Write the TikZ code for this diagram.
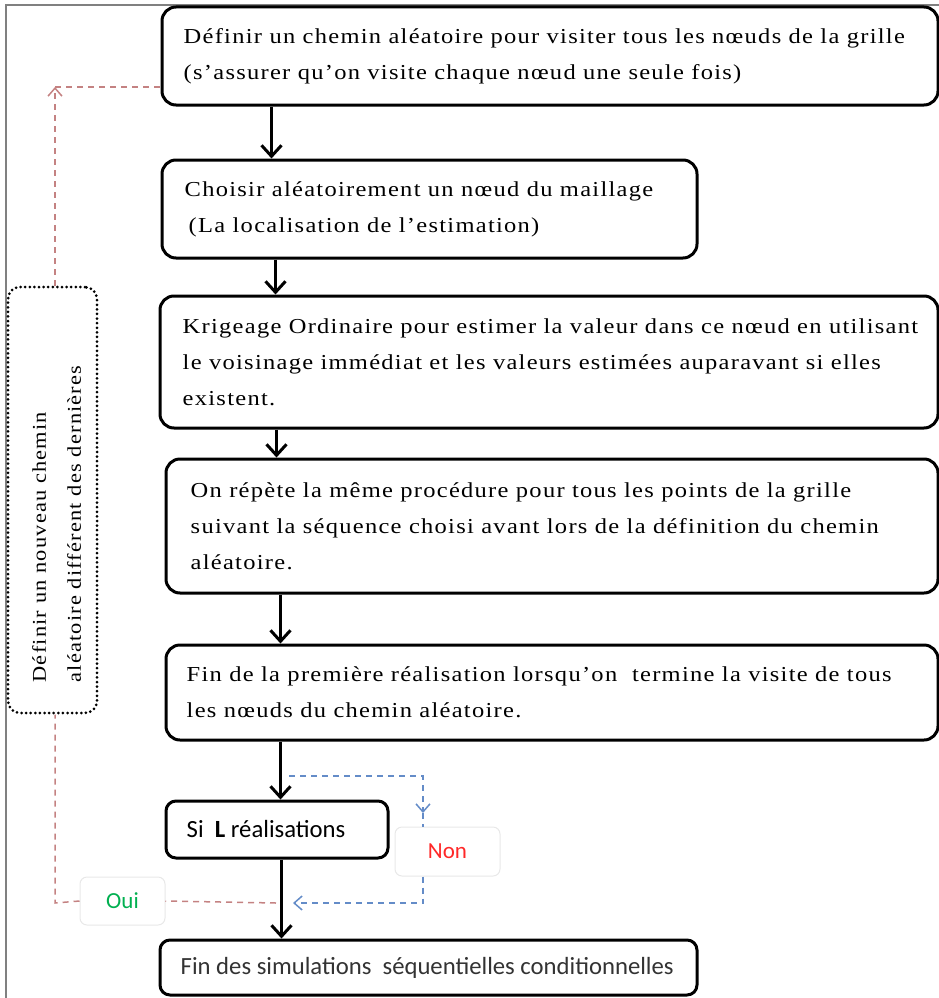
\documentclass[tikz,border=0pt]{standalone}
\usepackage{fontspec}
\setmainfont{Liberation Serif}
\newfontfamily\stepfont[FakeStretch=1.15,LetterSpace=6]{Liberation Serif}
\newfontfamily\sansf{Carlito}
\usetikzlibrary{arrows.meta,calc}
\definecolor{linkred}{RGB}{196,130,130}
\definecolor{linkblue}{RGB}{100,140,200}
\definecolor{ouigreen}{RGB}{0,176,80}
\definecolor{nonred}{RGB}{255,40,40}
\begin{document}
\begin{tikzpicture}[x=1pt,y=-1pt,
  stepbox/.style={draw,line width=3pt,rounded corners=14pt,inner sep=0pt,fill=white},
  smallbox/.style={stepbox,rounded corners=10pt},
  steptext/.style={anchor=west,align=left,inner sep=0pt,
    font=\stepfont\fontsize{21.3}{36}\selectfont},
  sanstext/.style={anchor=west,inner sep=0pt,font=\sansf\fontsize{24.7}{28}\selectfont},
  loopbox/.style={draw,line width=3pt,rounded corners=12pt,inner sep=0pt,
    dash pattern=on 0pt off 4.6pt,line cap=round},
  labelbox/.style={draw=gray!18,line width=1pt,rounded corners=7pt,fill=white,
    inner sep=0pt,font=\sansf\fontsize{23}{23}\selectfont},
  flow/.style={line width=3pt,-{Straight Barb[length=11pt,width=20pt]}},
  reddash/.style={draw=linkred,line width=1.5pt,dash pattern=on 6pt off 5pt},
  bluedash/.style={draw=linkblue,line width=1.5pt,dash pattern=on 6pt off 5pt},
  dashtip/.style={-{Straight Barb[length=8pt,width=14pt]}}]
\useasboundingbox (0,0) rectangle (939,998);

% outer frame
\draw[gray,line width=1.2pt] (6,998) -- (6,5) -- (939,5);

% main sequence of steps
\node[stepbox,minimum width=776pt,minimum height=98pt] (b1) at (550,56) {};
\node[steptext] (t1) at ([xshift=23pt]b1.west)
  {Définir un chemin aléatoire pour visiter tous les nœuds de la grille\\
   (s’assurer qu’on visite chaque nœud une seule fois)};

\node[stepbox,minimum width=535pt,minimum height=98pt] (b2) at (429.5,209) {};
\node[steptext] (t2) at ([xshift=24pt]b2.west)
  {Choisir aléatoirement un nœud du maillage\\
   \hspace*{4pt}(La localisation de l’estimation)};

\node[stepbox,minimum width=778pt,minimum height=132pt] (b3) at (549,362) {};
\node[steptext] (t3) at ([xshift=24pt]b3.west)
  {Krigeage Ordinaire pour estimer la valeur dans ce nœud en utilisant\\
   le voisinage immédiat et les valeurs estimées auparavant si elles\\
   existent.};

\node[stepbox,minimum width=772pt,minimum height=134pt] (b4) at (552,526) {};
\node[steptext] (t4) at ([xshift=26pt]b4.west)
  {On répète la même procédure pour tous les points de la grille\\
   suivant la séquence choisi avant lors de la définition du chemin\\
   aléatoire.};

\node[stepbox,minimum width=772pt,minimum height=95pt] (b5) at (552,692.5) {};
\node[steptext] (t5) at ([xshift=22pt]b5.west)
  {Fin de la première réalisation lorsqu’on \ termine la visite de tous\\
   les nœuds du chemin aléatoire.};

\node[smallbox,minimum width=222pt,minimum height=57pt] (b6) at (277,829.5) {};
\node[sanstext] (t6) at ([xshift=22pt]b6.west) {Si \ \textbf{L} réalisations};

\node[smallbox,minimum width=537pt,minimum height=55pt] (b7) at (428.5,967.5) {};
\node[sanstext,text=black!80] (t7) at ([xshift=22pt]b7.west)
  {Fin des simulations \ séquentielles conditionnelles};

% connectors between the steps
\draw[flow] ([xshift=111pt]b1.south west) -- ([xshift=111pt]b1.south west |- b2.north);
\draw[flow] ([xshift=115pt]b2.south west) -- ([xshift=115pt]b2.south west |- b3.north);
\draw[flow] ([xshift=118pt]b3.south west) -- ([xshift=118pt]b3.south west |- b4.north);
\draw[flow] ([xshift=116pt]b4.south west) -- ([xshift=116pt]b4.south west |- b5.north);
\draw[flow] ([xshift=116pt]b5.south west) -- ([xshift=116pt]b5.south west |- b6.north);
\draw[flow] ([xshift=117pt]b6.south west) -- ([xshift=117pt]b6.south west |- b7.north);

% loop-back box
\node[loopbox,minimum width=89pt,minimum height=426pt] (loop) at (52.5,500) {};
\node[rotate=90,align=left,inner sep=0pt,font=\stepfont\fontsize{19.5}{35}\selectfont]
  (looptext) at ([xshift=4pt,yshift=-24pt]loop.center)
  {Définir un nouveau chemin\\aléatoire différent des dernières};

% decision labels
\node[labelbox,text=nonred,minimum width=105pt,minimum height=49pt] (non) at (447.5,851.5) {Non};
\node[labelbox,text=ouigreen,minimum width=85pt,minimum height=48pt] (oui) at (122.5,901) {Oui};

% branch "Non"
\coordinate (nsplit) at (289,776);
\coordinate (ncorner) at (423,776);
\coordinate (ntip) at (423,813);
\coordinate (nback) at (293,903);
\draw[bluedash,dashtip] (nsplit) -- (ncorner) -- (ntip);
\draw[bluedash] (ntip) -- (ntip |- non.north);
\draw[bluedash,dashtip] (ntip |- non.south) |- (nback);

% branch "Oui"
\coordinate (osplit) at (276,903);
\coordinate (ocorner) at (55,903);
\coordinate (rtop) at (55,87);
\draw[reddash] (osplit) -- (oui.east);
\draw[reddash] (oui.west) -- (ocorner) -- (ocorner |- loop.south);
\draw[reddash,dashtip] (rtop |- loop.north) -- (rtop);
\draw[reddash] (rtop) -- (rtop -| b1.west);
\end{tikzpicture}
\end{document}
